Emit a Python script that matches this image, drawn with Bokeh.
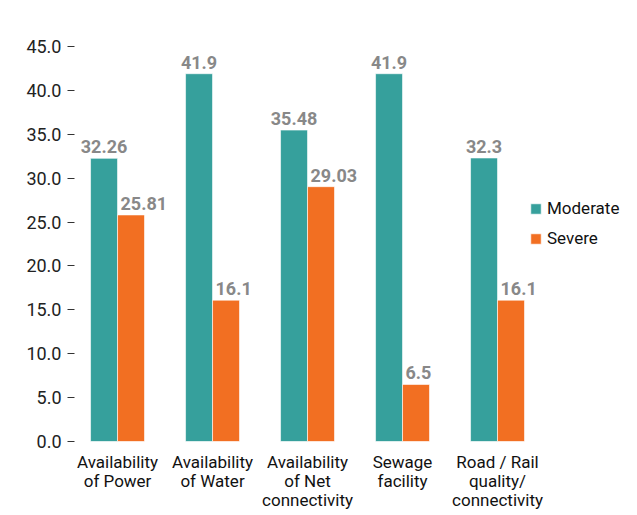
from bokeh.plotting import figure
from bokeh.models import ColumnDataSource, Range1d, FixedTicker, Legend, LegendItem, LabelSet
from bokeh.core.properties import value
from bokeh.embed import file_html
from bokeh.resources import INLINE

categories = ["Availability\nof Power", "Availability\nof Water", "Availability\nof Net\nconnectivity",
              "Sewage\nfacility", "Road / Rail\nquality/\nconnectivity"]
moderate = [32.26, 41.9, 35.48, 41.9, 32.3]
severe = [25.81, 16.1, 29.03, 6.5, 16.1]
moderate_labels = ["32.26", "41.9", "35.48", "41.9", "32.3"]
severe_labels = ["25.81", "16.1", "29.03", "6.5", "16.1"]
y_ticks = [0, 5, 10, 15, 20, 25, 30, 35, 40, 45]

FONT = "Roboto"
TEAL = "#36A09C"
ORANGE = "#F26F22"
BW = 0.284

idx = list(range(len(categories)))
src_m = ColumnDataSource(dict(x=[i - BW / 2 for i in idx], top=moderate, lab=moderate_labels))
src_s = ColumnDataSource(dict(x=[i + BW / 2 for i in idx], left=[i for i in idx],
                              top=severe, lab=severe_labels))

p = figure(width=621, height=512, output_backend="svg", toolbar_location=None,
           x_range=Range1d(-0.453, 5.305), y_range=Range1d(0, 45))
p.min_border_top = 46
p.min_border_left = 74
p.min_border_right = 0
p.min_border_bottom = 0
p.outline_line_color = None
p.xgrid.grid_line_color = None
p.ygrid.grid_line_color = None

rm = p.vbar(x="x", top="top", width=BW, source=src_m, fill_color=TEAL, line_color="white", line_width=0.6)
rs = p.vbar(x="x", top="top", width=BW, source=src_s, fill_color=ORANGE, line_color="white", line_width=0.6)

p.add_layout(LabelSet(x="x", y="top", text="lab", source=src_m, text_align="center",
                      text_baseline="bottom", y_offset=5, text_font=value(FONT),
                      text_font_size="18px", text_font_style="bold", text_color="#888888"))
p.add_layout(LabelSet(x="left", y="top", text="lab", source=src_s, text_align="left",
                      text_baseline="bottom", x_offset=3, y_offset=5, text_font=value(FONT),
                      text_font_size="18px", text_font_style="bold", text_color="#888888"))

yax = p.yaxis[0]
yax.ticker = FixedTicker(ticks=y_ticks)
yax.major_label_overrides = {t: f"{t:.1f}" for t in y_ticks}
yax.axis_line_color = None
yax.minor_tick_line_color = None
yax.major_tick_in = 0
yax.major_tick_out = 7
yax.major_tick_line_color = "#333333"
yax.major_label_text_font = FONT
yax.major_label_text_font_size = "18px"
yax.major_label_text_color = "#222222"
yax.major_label_standoff = 6

xax = p.xaxis[0]
xax.ticker = FixedTicker(ticks=idx)
xax.major_label_overrides = {i: c for i, c in zip(idx, categories)}
xax.axis_line_color = None
xax.major_tick_line_color = None
xax.minor_tick_line_color = None
xax.major_label_text_font = FONT
xax.major_label_text_font_size = "17px"
xax.major_label_text_color = "#111111"
xax.major_label_text_line_height = 0.95
xax.major_label_standoff = 4

legend = Legend(items=[LegendItem(label="Moderate", renderers=[rm]),
                       LegendItem(label="Severe", renderers=[rs])],
                location=(455, 193), orientation="vertical")
legend.border_line_color = None
legend.background_fill_alpha = 0
legend.label_text_font = FONT
legend.label_text_font_size = "17px"
legend.label_text_color = "#111111"
legend.glyph_width = 13
legend.glyph_height = 13
legend.spacing = 10
legend.label_height = 20
p.add_layout(legend)

open("out.html", "w").write(file_html(p, INLINE))
